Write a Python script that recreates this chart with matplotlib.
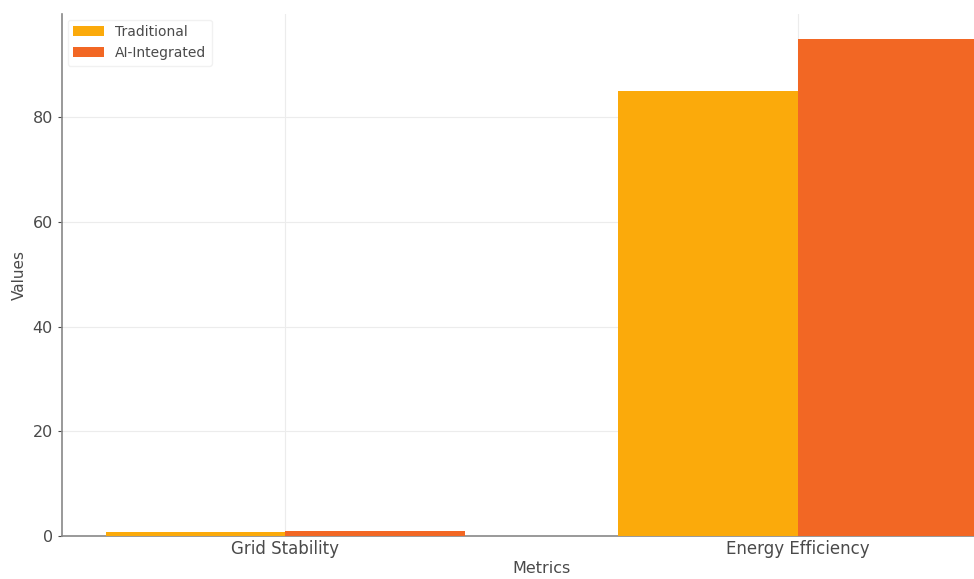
import matplotlib
matplotlib.use("Agg")
import matplotlib.pyplot as plt
import numpy as np

metrics = ["Grid Stability", "Energy Efficiency"]
traditional = [0.85, 85]
ai_integrated = [0.95, 95]
series_labels = ["Traditional", "AI-Integrated"]

W, H = 974, 579
fig = plt.figure(figsize=(W / 100, H / 100), dpi=100)
ax = fig.add_axes([62 / W, (H - 536) / H, (1021 - 62) / W, (536 - 14) / H])

x = np.arange(len(metrics))
width = 0.35
ax.bar(x - width / 2, traditional, width, label=series_labels[0], color="#FBAA0B", zorder=3)
ax.bar(x + width / 2, ai_integrated, width, label=series_labels[1], color="#F26724", zorder=3)

text_col = "#4a4a4a"
ax.set_xticks(x)
ax.set_xticklabels(metrics, fontsize=12, color=text_col)
ax.set_ylabel("Values", fontsize=11, color=text_col)
ax.set_xlabel("Metrics", fontsize=11.5, color=text_col, labelpad=2)
ax.tick_params(axis="y", labelsize=11.5, colors=text_col, length=3)
ax.tick_params(axis="x", length=0, pad=3)
ax.set_yticks([0, 20, 40, 60, 80])

ax.grid(True, color="#ececec", linewidth=0.8, zorder=0)
for side in ("top", "right"):
    ax.spines[side].set_visible(False)
for side in ("left", "bottom"):
    ax.spines[side].set_color("#888888")
    ax.spines[side].set_linewidth(1.2)

leg = ax.legend(loc="upper left", fontsize=10, frameon=True, edgecolor="#eeeeee",
                handlelength=2.2, borderaxespad=0.4)
for t in leg.get_texts():
    t.set_color(text_col)

fig.savefig("out.png", dpi=100)
